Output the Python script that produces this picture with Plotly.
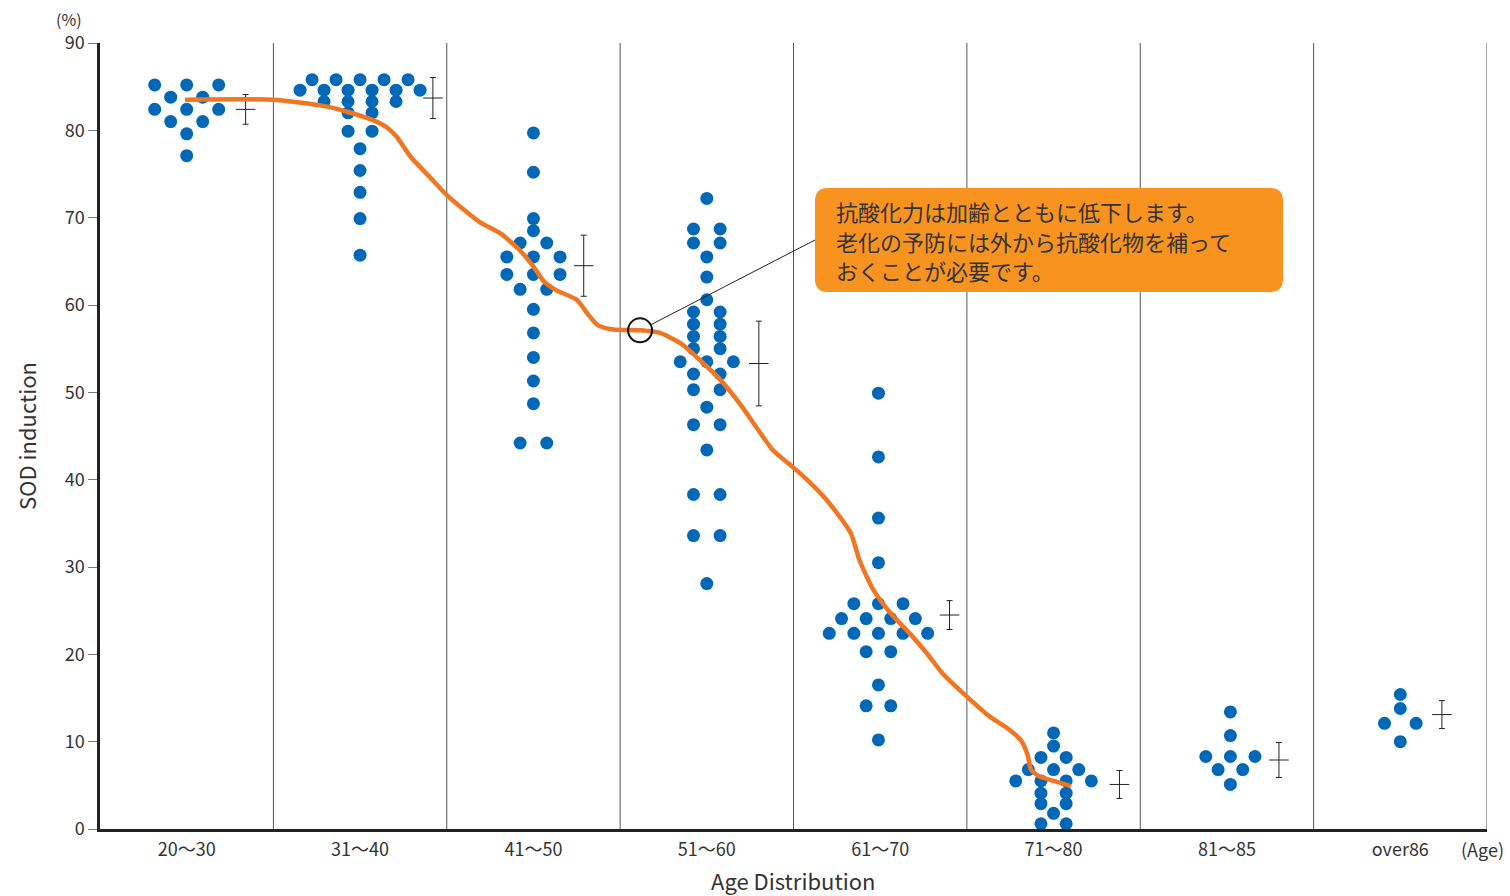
import plotly.graph_objects as go

# ---------------- data ----------------
age_groups = ["20～30", "31～40", "41～50", "51～60", "61～70", "71～80", "81～85", "over86"]

# dot columns (relative position in each swarm) and SOD values (%)
g1_cols = [-2, 0, 2, -1, 1, -2, 0, 2, -1, 1, 0, 0]
g1_vals = [85.2, 85.2, 85.2, 83.8, 83.8, 82.4, 82.4, 82.4, 81.0, 81.0, 79.6, 77.1]

g2_cols = [-4, -2, 0, 2, 4, -5, -3, -1, 1, 3, 5, -3, -1, 1, 3, -1, 1, -1, 1, 0, 0, 0, 0, 0]
g2_vals = [85.8, 85.8, 85.8, 85.8, 85.8, 84.6, 84.6, 84.6, 84.6, 84.6, 84.6,
           83.3, 83.3, 83.3, 83.3, 82.0, 82.0, 79.9, 79.9, 77.9, 75.4, 72.9, 69.9, 65.7]

g3_cols = [0, 0, 0, 0, -1, 1, -2, 0, 2, -2, 0, 2, -1, 1, 0, 0, 0, 0, 0, -1, 1]
g3_vals = [79.7, 75.2, 69.9, 68.5, 67.1, 67.1, 65.5, 65.5, 65.5, 63.5, 63.5, 63.5,
           61.8, 61.8, 59.5, 56.8, 54.0, 51.3, 48.7, 44.2, 44.2]

g4_cols = [0, -1, 1, -1, 1, 0, 0, 0, -1, 1, -1, 1, -1, 1, -1, 1, -2, 0, 2, -1, 1,
           -1, 1, 0, -1, 1, 0, -1, 1, -1, 1, 0]
g4_vals = [72.2, 68.7, 68.7, 67.1, 67.1, 65.5, 63.2, 60.6, 59.2, 59.2, 57.8, 57.8,
           56.4, 56.4, 55.0, 55.0, 53.5, 53.5, 53.5, 52.1, 52.1, 50.3, 50.3, 48.3,
           46.3, 46.3, 43.4, 38.3, 38.3, 33.6, 33.6, 28.1]

g5_cols = [0, 0, 0, 0, -2, 0, 2, -3, -1, 1, 3, -4, -2, 0, 2, 4, -1, 1, 0, -1, 1, 0]
g5_vals = [49.9, 42.6, 35.6, 30.5, 25.8, 25.8, 25.8, 24.1, 24.1, 24.1, 24.1,
           22.4, 22.4, 22.4, 22.4, 22.4, 20.3, 20.3, 16.5, 14.1, 14.1, 10.2]

g6_cols = [0, 0, -1, 1, -2, 0, 2, -3, -1, 1, 3, -1, 1, -1, 1, 0, -1, 1]
g6_vals = [11.0, 9.5, 8.2, 8.2, 6.8, 6.8, 6.8, 5.5, 5.5, 5.5, 5.5, 4.1, 4.1,
           2.9, 2.9, 1.8, 0.6, 0.6]

g7_cols = [0, 0, -2, 0, 2, -1, 1, 0]
g7_vals = [13.4, 10.7, 8.3, 8.3, 8.3, 6.8, 6.8, 5.1]

g8_cols = [0, 0, -1, 1, 0]
g8_vals = [15.4, 13.8, 12.1, 12.1, 10.0]

group_cols = [g1_cols, g2_cols, g3_cols, g4_cols, g5_cols, g6_cols, g7_cols, g8_cols]
group_vals = [g1_vals, g2_vals, g3_vals, g4_vals, g5_vals, g6_vals, g7_vals, g8_vals]

# mean and spread per group
means = [82.4, 83.7, 64.5, 53.3, 24.5, 5.1, 7.9, 13.1]
spreads = [1.7, 2.35, 3.5, 4.85, 1.65, 1.6, 2.0, 1.6]

# trend curve (x in age-band units, y in %)
trend_x = [0.49, 1.00, 1.29, 1.43, 1.57, 1.65, 1.71, 1.79, 1.90, 2.01, 2.19, 2.31,
           2.42, 2.50, 2.56, 2.63, 2.75, 2.81, 2.87, 2.96, 3.12, 3.23, 3.35, 3.46,
           3.58, 3.69, 3.81, 3.88, 3.98, 4.04, 4.19, 4.33, 4.38, 4.46, 4.56, 4.67,
           4.77, 4.86, 5.00, 5.13, 5.23, 5.31, 5.35, 5.37, 5.42, 5.52, 5.60]
trend_y = [83.5, 83.5, 82.8, 82.1, 81.2, 80.4, 79.3, 77.0, 74.7, 72.4, 69.5, 68.2,
           66.3, 64.4, 62.7, 61.7, 60.6, 59.05, 57.7, 57.2, 57.1, 56.8, 55.6, 53.7,
           51.4, 48.7, 45.3, 43.4, 41.7, 40.7, 37.7, 33.9, 30.8, 27.4, 24.7, 22.4,
           20.1, 17.8, 15.15, 12.9, 11.6, 10.2, 8.5, 6.8, 6.0, 5.4, 4.9]

highlight_x = 3.115
highlight_y = 57.1

note_lines = ["抗酸化力は加齢とともに低下します。",
              "老化の予防には外から抗酸化物を補って",
              "おくことが必要です。"]

y_ticks = [0, 10, 20, 30, 40, 50, 60, 70, 80, 90]

# ---------------- layout / style ----------------
W, H = 1510, 896
ML, MR, MT, MB = 100, 23, 43, 67
NB = len(age_groups)
YMAX = 90
PX_X = (W - ML - MR) / NB
PX_Y = (H - MT - MB) / YMAX

centers = [0.50, 0.50, 0.50, 0.50, 0.49, 0.50, 0.52, 0.50]
steps = [16, 12, 13.3, 13.3, 12.3, 12.6, 12.3, 15.8]  # px between columns
err_off = [0.84, 0.92, 0.79, 0.80, 0.90, 0.88, 0.80, 0.74]

DOT = "#0068B7"
ORANGE = "#F07622"
BOX = "#F7931E"
INK = "#333333"
FONT = "Noto Sans CJK JP"

fig = go.Figure()

for i in range(NB):
    xs = [i + centers[i] + c * steps[i] / PX_X for c in group_cols[i]]
    fig.add_trace(go.Scatter(
        x=xs, y=group_vals[i], mode="markers",
        marker=dict(size=13, color=DOT, line=dict(width=0)),
        cliponaxis=False, showlegend=False, hoverinfo="y"))

fig.add_trace(go.Scatter(
    x=[i + err_off[i] for i in range(NB)], y=means, mode="markers",
    marker=dict(symbol="line-ew", size=14, color="#222", line=dict(width=1, color="#222")),
    error_y=dict(type="data", array=spreads, visible=True, width=3, thickness=1, color="#222"),
    showlegend=False, cliponaxis=False))

fig.add_trace(go.Scatter(
    x=trend_x, y=trend_y, mode="lines",
    line=dict(color=ORANGE, width=4.5, shape="spline", smoothing=0.6),
    showlegend=False, hoverinfo="skip"))

fig.add_trace(go.Scatter(
    x=[highlight_x], y=[highlight_y], mode="markers",
    marker=dict(symbol="circle-open", size=24, color="#111", line=dict(width=2, color="#111")),
    showlegend=False, hoverinfo="skip"))

# vertical separators
for k in range(1, NB + 1):
    fig.add_shape(type="line", x0=k, x1=k, y0=0, y1=YMAX, xref="x", yref="y",
                  line=dict(color="#555", width=1), layer="below")

# callout box (rounded)
bx0, bx1 = (815 - ML) / PX_X, (1283 - ML) / PX_X
by0, by1 = YMAX - (292 - MT) / PX_Y, YMAX - (188 - MT) / PX_Y
rx, ry = 13 / PX_X, 13 / PX_Y
path = (f"M {bx0+rx},{by1} L {bx1-rx},{by1} Q {bx1},{by1} {bx1},{by1-ry} "
        f"L {bx1},{by0+ry} Q {bx1},{by0} {bx1-rx},{by0} L {bx0+rx},{by0} "
        f"Q {bx0},{by0} {bx0},{by0+ry} L {bx0},{by1-ry} Q {bx0},{by1} {bx0+rx},{by1} Z")
fig.add_shape(type="path", path=path, xref="x", yref="y",
              fillcolor=BOX, line=dict(width=0), layer="above")

# pointer line from circle edge to the box
tx, ty = bx0, YMAX - (240 - MT) / PX_Y
dxp = (tx - highlight_x) * PX_X
dyp = (ty - highlight_y) * PX_Y
L = (dxp ** 2 + dyp ** 2) ** 0.5
r = 12.5
sx = highlight_x + dxp / L * r / PX_X
sy = highlight_y + dyp / L * r / PX_Y
fig.add_shape(type="line", x0=sx, y0=sy, x1=tx, y1=ty, xref="x", yref="y",
              line=dict(color="#222", width=1))

annotations = []
for j, txt in enumerate(note_lines):
    yc = YMAX - (211 + 29.5 * j - MT) / PX_Y
    annotations.append(dict(x=bx0 + 19 / PX_X, y=yc, xref="x", yref="y", text=txt,
                            showarrow=False, xanchor="left", yanchor="middle",
                            font=dict(family=FONT, size=22, color=INK)))
annotations.append(dict(x=0, y=1, xref="paper", yref="paper", text="(%)", showarrow=False,
                        xanchor="right", yanchor="middle", xshift=-16, yshift=24,
                        font=dict(family=FONT, size=16, color=INK)))
annotations.append(dict(x=1, y=0, xref="paper", yref="paper", text="(Age)", showarrow=False,
                        xanchor="right", yanchor="middle", xshift=19, yshift=-20,
                        font=dict(family=FONT, size=18, color=INK)))
annotations.append(dict(x=0.5, y=0, xref="paper", yref="paper", text="Age Distribution",
                        showarrow=False, xanchor="center", yanchor="middle", yshift=-51,
                        font=dict(family=FONT, size=22, color=INK)))
annotations.append(dict(x=0, y=0.5, xref="paper", yref="paper", text="SOD induction",
                        showarrow=False, xanchor="center", yanchor="middle", xshift=-74,
                        textangle=-90, font=dict(family=FONT, size=22, color=INK)))

fig.update_layout(
    width=W, height=H,
    margin=dict(l=ML, r=MR, t=MT, b=MB, autoexpand=False),
    paper_bgcolor="white", plot_bgcolor="white",
    font=dict(family=FONT, color=INK),
    annotations=annotations,
    xaxis=dict(range=[0, NB], tickvals=[i + 0.5 for i in range(NB)], ticktext=age_groups,
               showgrid=False, zeroline=False, showline=True, linecolor="#222", linewidth=2.5,
               ticks="", ticklabelstandoff=3, tickfont=dict(size=18, color=INK),
               automargin=False),
    yaxis=dict(range=[0, YMAX], tickvals=y_ticks, showgrid=False, zeroline=False,
               showline=True, linecolor="#222", linewidth=2.5,
               ticks="outside", ticklen=9, tickcolor="#777", tickwidth=1,
               tickfont=dict(size=18, color=INK), automargin=False),
)

fig.write_html("out.html", config={"displayModeBar": False},
               post_script="document.body.style.margin='0px';document.body.style.overflow='hidden';")
